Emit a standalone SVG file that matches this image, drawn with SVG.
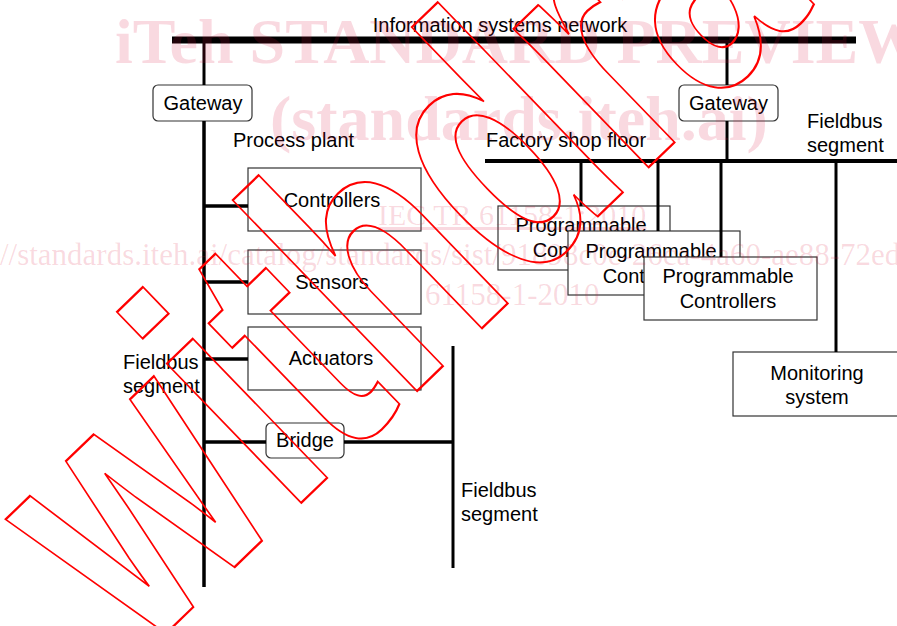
<svg xmlns="http://www.w3.org/2000/svg" width="897" height="626" viewBox="0 0 897 626">
<style>
.t{font-family:"Liberation Sans",Arial,sans-serif;font-size:20px;fill:#000}
.m{text-anchor:middle}
.box{fill:#fff;stroke:#333;stroke-width:1.2}
.gw{fill:#fff;stroke:#333;stroke-width:1.2}
.bus{stroke:#000;fill:none}
.wm{font-family:"Liberation Serif","Times New Roman",serif;fill:#dc143c;fill-opacity:0.16}
</style>
<rect width="897" height="626" fill="#fff"/>
<g id="labels">
<text class="t m" x="500" y="32">Information systems network</text>
<text class="t" x="233" y="147">Process plant</text>
<text class="t" x="486" y="147">Factory shop floor</text>
<text class="t" x="807" y="128">Fieldbus</text>
<text class="t" x="807" y="152">segment</text>
<text class="t" x="123" y="369">Fieldbus</text>
<text class="t" x="123" y="393">segment</text>
<text class="t" x="461" y="497">Fieldbus</text>
<text class="t" x="461" y="521">segment</text>
</g>
<g id="gateway1"><rect class="gw" x="153" y="85" width="99" height="36" rx="5"/><text class="t m" x="203" y="110">Gateway</text></g>
<g id="gateway2"><rect class="gw" x="679" y="85" width="99" height="36" rx="5"/><text class="t m" x="728.5" y="110">Gateway</text></g>
<g id="controllers"><rect class="box" x="248" y="168" width="173" height="63"/><text class="t m" x="332" y="207">Controllers</text></g>
<g id="sensors"><rect class="box" x="248" y="250" width="173" height="64"/><text class="t m" x="332" y="289">Sensors</text></g>
<g id="actuators"><rect class="box" x="248" y="327" width="173" height="63"/><text class="t m" x="331" y="365">Actuators</text></g>
<g id="bridge"><rect class="gw" x="266" y="423" width="78" height="35" rx="5"/><text class="t m" x="305" y="447">Bridge</text></g>
<g id="plc1"><rect class="box" x="498" y="206" width="172" height="64"/><text class="t m" x="581" y="232">Programmable</text><text class="t m" x="581" y="257">Controllers</text></g>
<g id="plc2"><rect class="box" x="568" y="231" width="172" height="64"/><text class="t m" x="651" y="258">Programmable</text><text class="t m" x="651" y="283">Controllers</text></g>
<g id="plc3"><rect class="box" x="644" y="257" width="173" height="63"/><text class="t m" x="728" y="283">Programmable</text><text class="t m" x="728" y="308">Controllers</text></g>
<g id="monitoring"><rect class="box" x="733" y="352" width="170" height="64"/><text class="t m" x="817" y="380">Monitoring</text><text class="t m" x="817" y="404">system</text></g>
<g id="connectors" class="bus">
<line x1="172" y1="40" x2="856" y2="40" stroke-width="7"/>
<line x1="204" y1="43" x2="204" y2="85" stroke-width="3"/>
<line x1="204" y1="121" x2="204" y2="587" stroke-width="3.5"/>
<line x1="727" y1="43" x2="727" y2="85" stroke-width="3"/>
<line x1="727" y1="121" x2="727" y2="160" stroke-width="3"/>
<line x1="485" y1="161" x2="897" y2="161" stroke-width="4"/>
<line x1="581" y1="161" x2="581" y2="206" stroke-width="3"/>
<line x1="658" y1="161" x2="658" y2="231" stroke-width="3"/>
<line x1="721" y1="161" x2="721" y2="257" stroke-width="3"/>
<line x1="836" y1="161" x2="836" y2="352" stroke-width="3"/>
<line x1="204" y1="206" x2="248" y2="206" stroke-width="3.5"/>
<line x1="204" y1="282" x2="248" y2="282" stroke-width="3.5"/>
<line x1="204" y1="359" x2="248" y2="359" stroke-width="3.5"/>
<line x1="204" y1="442" x2="266" y2="442" stroke-width="3.5"/>
<line x1="344" y1="442" x2="453" y2="442" stroke-width="3.5"/>
<line x1="453" y1="346" x2="453" y2="568" stroke-width="3"/>
</g>
<g id="watermark">
<text class="wm" x="115" y="63" font-size="64" font-weight="bold">iTeh STANDARD PREVIEW</text>
<text class="wm" x="270" y="140" font-size="64" font-weight="bold">(standards.iteh.ai)</text>
<text class="wm" x="378" y="225" font-size="30" text-decoration="underline">IEC TR 61158-1:2010</text>
<text class="wm" x="-69" y="265" font-size="31">https://standards.iteh.ai/catalog/standards/sist/91898c0e-26ca-4a60-ae88-72ed</text>
<text class="wm" x="425" y="305" font-size="31">61158-1-2010</text>
<text x="0" y="0" transform="translate(140.5,658) rotate(-44) scale(0.72,1)" font-family="Liberation Sans,Arial,sans-serif" font-weight="bold" font-size="366" fill="none" stroke="#ff0000" stroke-width="2" vector-effect="non-scaling-stroke">withdrawn</text>
</g>
</svg>
